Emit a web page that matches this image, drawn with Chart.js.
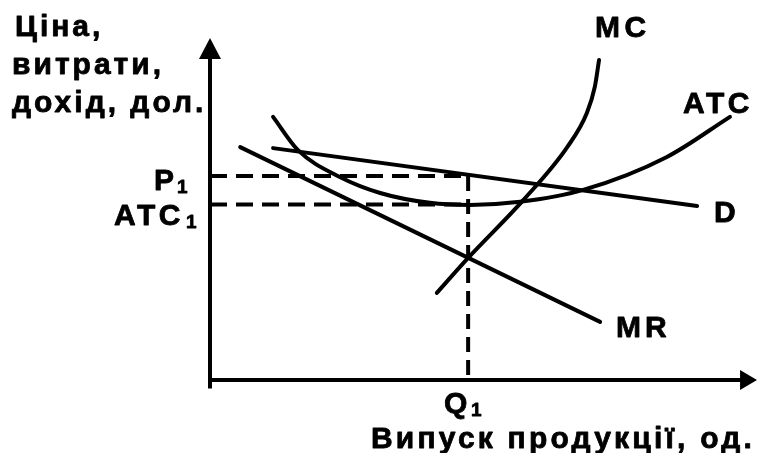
<!DOCTYPE html>
<html>
<head>
<meta charset="utf-8">
<script src="https://cdn.jsdelivr.net/npm/chart.js@4/dist/chart.umd.min.js"></script>
<style>
  html, body { margin: 0; padding: 0; background: #fff; }
  #wrap { width: 757px; height: 453px; }
</style>
</head>
<body>
<div id="wrap"><canvas id="chart"></canvas></div>
<script>
// кількість (Q) і ціна (P) в умовних одиницях
const demandQ = [1.19, 9.19];
const demandP = [6.82, 5.12];
const mrQ = [0.57, 7.36];
const mrP = [6.85, 1.71];
const mcQ = [4.28, 4.87, 5.91, 6.74, 7.11, 7.26, 7.34];
const mcP = [2.56, 3.59, 5.29, 6.85, 7.85, 8.62, 9.41];
const atcQ = [1.19, 1.66, 2.45, 3.21, 4.15, 4.91, 5.85, 7.04, 8.62, 9.81];
const atcP = [7.74, 6.76, 5.97, 5.50, 5.21, 5.15, 5.24, 5.59, 6.56, 7.74];
const q1 = 4.87;
const p1 = 6.0;
const atc1 = 5.16;

const pts = (xs, ys) => xs.map((x, i) => ({ x, y: ys[i] }));

const curve = (data, extra) => Object.assign({
  data,
  showLine: true,
  borderColor: '#000',
  borderWidth: 4,
  pointRadius: 0,
  fill: false,
  borderCapStyle: 'round',
  borderJoinStyle: 'round',
}, extra);

const dashed = (data, dash) => curve(data, { borderDash: dash, borderCapStyle: 'butt' });

const FONT = 'bold 30px "Liberation Sans", Arial, sans-serif';
const SUB = 'bold 19px "Liberation Sans", Arial, sans-serif';

// жирний текст з розрідженням
function txt(ctx, s, x, y, font, sp) {
  ctx.font = font;
  ctx.lineWidth = 0.8;
  ctx.lineJoin = 'round';
  if ('letterSpacing' in ctx) {
    ctx.letterSpacing = sp + 'px';
    ctx.fillText(s, x, y);
    ctx.strokeText(s, x, y);
    ctx.letterSpacing = '0px';
    return;
  }
  for (const ch of s) {
    ctx.fillText(ch, x, y);
    ctx.strokeText(ch, x, y);
    x += ctx.measureText(ch).width + sp;
  }
}

const axesAndLabels = {
  id: 'axesAndLabels',
  beforeDatasetsDraw(chart) {
    const { ctx, scales } = chart;
    const X = (v) => scales.x.getPixelForValue(v);
    const Y = (v) => scales.y.getPixelForValue(v);
    ctx.save();
    ctx.strokeStyle = '#000';
    ctx.fillStyle = '#000';
    ctx.lineWidth = 4;
    // вісь ціни
    ctx.beginPath();
    ctx.moveTo(X(0), Y(-0.25));
    ctx.lineTo(X(0), Y(9.5));
    ctx.stroke();
    ctx.beginPath();
    ctx.moveTo(X(0), Y(10.06));
    ctx.lineTo(X(0) - 11, Y(9.44));
    ctx.lineTo(X(0) + 11, Y(9.44));
    ctx.closePath();
    ctx.fill();
    // вісь випуску
    ctx.beginPath();
    ctx.moveTo(X(0) - 2, Y(0));
    ctx.lineTo(X(10.05), Y(0));
    ctx.stroke();
    ctx.beginPath();
    ctx.moveTo(X(10.32), Y(0));
    ctx.lineTo(X(10.0), Y(0) - 10);
    ctx.lineTo(X(10.0), Y(0) + 10);
    ctx.closePath();
    ctx.fill();
    ctx.restore();
  },
  afterDatasetsDraw(chart) {
    const { ctx } = chart;
    ctx.save();
    ctx.fillStyle = '#000';
    ctx.strokeStyle = '#000';
    ctx.textAlign = 'left';
    ctx.textBaseline = 'alphabetic';
    txt(ctx, 'Ціна,', 15, 36, FONT, 3);
    txt(ctx, 'витрати,', 12, 74, FONT, 3);
    txt(ctx, 'дохід, дол.', 12, 112, FONT, 3);
    txt(ctx, 'MC', 595, 37, FONT, 4.5);
    txt(ctx, 'ATC', 683, 113, FONT, 3.5);
    txt(ctx, 'D', 714, 222, FONT, 3);
    txt(ctx, 'MR', 616, 337, FONT, 4);
    txt(ctx, 'P', 154, 190, FONT, 3);
    txt(ctx, '1', 177, 193, SUB, 0);
    txt(ctx, 'ATC', 114, 225, FONT, 3.5);
    txt(ctx, '1', 186, 228, SUB, 0);
    txt(ctx, 'Q', 444, 413, FONT, 3);
    txt(ctx, '1', 471, 416, SUB, 0);
    txt(ctx, 'Випуск продукції, од.', 371, 448, FONT, 3.2);
    ctx.restore();
  },
};

new Chart(document.getElementById('chart'), {
  type: 'scatter',
  data: {
    datasets: [
      dashed([{ x: 0, y: p1 }, { x: q1, y: p1 }], [17, 9]),
      dashed([{ x: 0, y: atc1 }, { x: q1, y: atc1 }], [17, 9]),
      dashed([{ x: q1, y: p1 }, { x: q1, y: 0 }], [15, 8]),
      curve(pts(demandQ, demandP)),
      curve(pts(mrQ, mrP)),
      curve(pts(mcQ, mcP), { cubicInterpolationMode: 'monotone' }),
      curve(pts(atcQ, atcP), { cubicInterpolationMode: 'monotone' }),
    ],
  },
  options: {
    responsive: true,
    maintainAspectRatio: false,
    animation: false,
    layout: { padding: 0 },
    plugins: { legend: { display: false }, tooltip: { enabled: false }, title: { display: false } },
    scales: {
      x: { type: 'linear', display: false, min: -3.962, max: 10.32 },
      y: { type: 'linear', display: false, min: -2.147, max: 11.176 },
    },
  },
  plugins: [axesAndLabels],
});
</script>
</body>
</html>
